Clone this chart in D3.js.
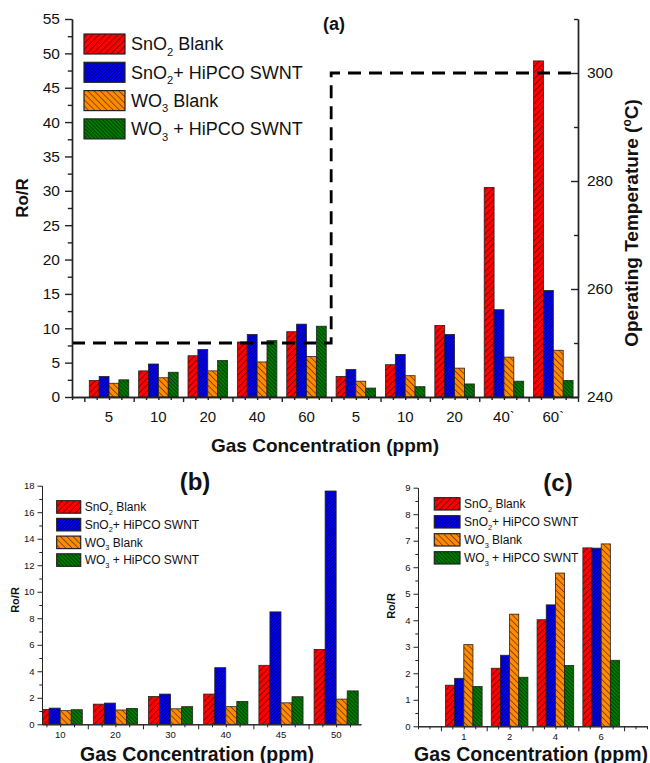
<!DOCTYPE html>
<html>
<head>
<meta charset="UTF-8" />
<title>gas sensor response</title>
<script src="https://d3js.org/d3.v7.min.js"></script>
<style>
	body { margin: 0; background: #fff; }
	text { font-family: "Liberation Sans", Arial, sans-serif; fill: #111; }
</style>
</head>
<body>
<svg id="chart" width="650" height="763"></svg>

<script type="text/javascript">

// ---------------- data ----------------
var catsA = ["5", "10", "20", "40", "60", "5", "10", "20", "40`", "60`"]
var snoBlankA = [2.4, 3.8, 6.0, 8.0, 9.5, 3.0, 4.7, 10.4, 30.5, 48.9]
var snoSwntA  = [3.0, 4.8, 6.9, 9.1, 10.6, 4.0, 6.2, 9.1, 12.7, 15.5]
var woBlankA  = [2.0, 2.8, 3.8, 5.1, 5.9, 2.3, 3.1, 4.2, 5.8, 6.8]
var woSwntA   = [2.5, 3.6, 5.3, 8.2, 10.3, 1.3, 1.5, 1.9, 2.3, 2.4]
var tempA     = [250, 250, 250, 250, 250, 300, 300, 300, 300, 300]

var catsB = ["10", "20", "30", "40", "45", "50"]
var snoBlankB = [1.12, 1.52, 2.1, 2.28, 4.45, 5.65]
var snoSwntB  = [1.22, 1.6, 2.28, 4.27, 8.48, 17.6]
var woBlankB  = [1.03, 1.08, 1.17, 1.33, 1.62, 1.9]
var woSwntB   = [1.1, 1.2, 1.33, 1.73, 2.08, 2.52]

var catsC = ["1", "2", "4", "6"]
var snoBlankC = [1.55, 2.19, 4.02, 6.73]
var snoSwntC  = [1.81, 2.68, 4.58, 6.72]
var woBlankC  = [3.08, 4.23, 5.78, 6.88]
var woSwntC   = [1.5, 1.85, 2.29, 2.49]

// legend names: [main, subscript, rest]
var seriesNames = [["SnO", "2", " Blank"], ["SnO", "2", "+ HiPCO SWNT"], ["WO", "3", " Blank"], ["WO", "3", " + HiPCO SWNT"]]
var seriesColors = ["#ff0000", "#0000ff", "#ff8a00", "#007a00"]

// ---------------- setup ----------------
var svg = d3.select("#chart")
var defs = svg.append("defs")

// hatch fills: "/" for SnO2, "\" for WO3
var hatch = [{gap: 4.4, angle: 45}, {gap: 2.3, angle: 45}, {gap: 4.4, angle: -45}, {gap: 2.7, angle: -45}]
hatch.forEach((h, i) => {
	var p = defs.append("pattern")
		.attr("id", "hatch" + i)
		.attr("patternUnits", "userSpaceOnUse")
		.attr("width", h.gap).attr("height", h.gap)
		.attr("patternTransform", "rotate(" + h.angle + ")")
	p.append("rect").attr("width", h.gap).attr("height", h.gap).attr("fill", seriesColors[i])
	p.append("line")
		.attr("x1", h.gap / 2).attr("x2", h.gap / 2)
		.attr("y1", 0).attr("y2", h.gap)
		.attr("stroke", "#000").attr("stroke-width", 0.6).attr("stroke-opacity", 0.75)
})

function styleAxis(g, fontSize, width) {
	g.selectAll("path").attr("stroke", "#222").attr("stroke-width", width)
	g.selectAll("line").attr("stroke", "#222").attr("stroke-width", width)
	g.selectAll("text").style("font-size", fontSize + "px").attr("fill", "#111")
		.style("font-family", "'Liberation Sans', Arial, sans-serif")
}

function drawBars(g, x, y, series, id) {
	// clip so bars are cut off at the axis like the original
	var xr = x.range(), yr = y.range()
	defs.append("clipPath").attr("id", "clip" + id)
		.append("rect").attr("x", xr[0]).attr("y", yr[1] - 5)
		.attr("width", xr[1] - xr[0]).attr("height", yr[0] - yr[1] + 5)
	var gb = g.append("g").attr("clip-path", "url(#clip" + id + ")")
	series.forEach((vals, j) => {
		gb.selectAll(".bar" + j)
			.data(vals)
			.enter()
			.append("rect")
			.attr("x", (d, i) => x(i + 1 - 0.4 + j * 0.2))
			.attr("width", (d, i) => x(i + 1.2) - x(i + 1))
			.attr("y", d => y(d))
			.attr("height", d => y(0) - y(d))
			.attr("fill", "url(#hatch" + j + ")")
			.attr("stroke", "#222")
			.attr("stroke-width", 0.8)
	})
}

function drawXAxis(g, x, y0, cats, fontSize, width, labelDy) {
	var d = x.domain()
	var quarter = d3.range(Math.ceil(d[0] * 4) / 4, d[1] + 0.001, 0.25)
	var half = quarter.filter(v => Math.abs(v * 2 - Math.round(v * 2)) < 0.01 && Math.abs(v - Math.round(v)) > 0.01)
	var minor = quarter.filter(v => half.indexOf(v) < 0)
	var a1 = g.append("g").attr("transform", "translate(0," + y0 + ")")
		.call(d3.axisBottom(x).tickValues(minor).tickSize(3).tickSizeOuter(0).tickFormat(""))
	var a2 = g.append("g").attr("transform", "translate(0," + y0 + ")")
		.call(d3.axisBottom(x).tickValues(half).tickSize(5).tickSizeOuter(0).tickFormat(""))
	styleAxis(a1, fontSize, width)
	styleAxis(a2, fontSize, width)
	g.selectAll(null).data(cats).enter().append("text")
		.attr("x", (c, i) => x(i + 1))
		.attr("y", y0 + labelDy)
		.attr("text-anchor", "middle")
		.style("font-size", fontSize + "px")
		.text(c => c)
}

function drawYAxis(g, y, x0, major, minor, fontSize, width, size, pad) {
	var a1 = g.append("g").attr("transform", "translate(" + x0 + ",0)")
		.call(d3.axisLeft(y).tickValues(minor).tickSize(size * 0.6).tickSizeOuter(0).tickFormat(""))
	var a2 = g.append("g").attr("transform", "translate(" + x0 + ",0)")
		.call(d3.axisLeft(y).tickValues(major).tickSize(size).tickPadding(pad).tickSizeOuter(0))
	styleAxis(a1, fontSize, width)
	styleAxis(a2, fontSize, width)
}

function drawLegend(g, x0, y0, boxW, boxH, step, fontSize) {
	seriesNames.forEach((n, j) => {
		var yy = y0 + j * step
		g.append("rect").attr("x", x0).attr("y", yy).attr("width", boxW).attr("height", boxH)
			.attr("fill", "url(#hatch" + j + ")").attr("stroke", "#222").attr("stroke-width", 1.2)
		var t = g.append("text").attr("x", x0 + boxW + fontSize * 0.33).attr("y", yy + boxH / 2 + fontSize * 0.35)
			.style("font-size", fontSize + "px")
		t.append("tspan").text(n[0])
		t.append("tspan").attr("dy", fontSize * 0.3).style("font-size", (fontSize * 0.62) + "px").text(n[1])
		t.append("tspan").attr("dy", -fontSize * 0.3).text(n[2])
	})
}

function rotLabel(g, x, y, size, txt) {
	g.append("text").attr("transform", "translate(" + x + "," + y + ") rotate(-90)")
		.attr("text-anchor", "middle").style("font-size", size + "px").style("font-weight", "bold").text(txt)
}

function title(g, x, y, size, txt) {
	g.append("text").attr("x", x).attr("y", y).attr("text-anchor", "middle")
		.style("font-size", size + "px").style("font-weight", "bold").text(txt)
}

//========================================================================
// (a)
//========================================================================
var gA = svg.append("g")
var xA = d3.scaleLinear().domain([0.25, 10.5]).range([72, 578])
var yA = d3.scaleLinear().domain([0, 55]).range([397, 19])
var tA = d3.scaleLinear().domain([240, 310]).range([397, 19])

drawBars(gA, xA, yA, [snoBlankA, snoSwntA, woBlankA, woSwntA], "A")

var tempPts = [[0.25, tempA[0]]].concat(tempA.map((t, i) => [i + 1, t])).concat([[10.5, tempA[tempA.length - 1]]])
gA.append("path")
	.datum(tempPts)
	.attr("d", d3.line().x(d => xA(d[0])).y(d => tA(d[1])).curve(d3.curveStep))
	.attr("fill", "none")
	.attr("stroke", "#000")
	.attr("stroke-width", 2.8)
	.attr("stroke-dasharray", "13,8")

drawXAxis(gA, xA, 397, catsA, 15, 1.4, 25)
drawYAxis(gA, yA, 72, d3.range(0, 56, 5), d3.range(2.5, 55, 5), 15.5, 1.4, 7, 5)

var rA1 = gA.append("g").attr("transform", "translate(578,0)")
	.call(d3.axisRight(tA).tickValues([250, 270, 290, 310]).tickSize(-4).tickSizeOuter(0).tickFormat(""))
var rA2 = gA.append("g").attr("transform", "translate(578,0)")
	.call(d3.axisRight(tA).tickValues([240, 260, 280, 300]).tickSize(-7).tickPadding(9).tickSizeOuter(0))
styleAxis(rA1, 15.5, 1.4)
styleAxis(rA2, 15.5, 1.4)

drawLegend(gA, 84, 34, 41, 20, 28.3, 18)
title(gA, 334, 30, 18, "(a)")
rotLabel(gA, 28, 198, 17, "Ro/R")
var tt = gA.append("text").attr("transform", "translate(638,223) rotate(-90)")
	.attr("text-anchor", "middle").style("font-size", "19px").style("font-weight", "bold")
tt.append("tspan").text("Operating Temperature (")
tt.append("tspan").attr("dy", -7).style("font-size", "12px").text("o")
tt.append("tspan").attr("dy", 7).text("C)")
title(gA, 325, 452, 19, "Gas Concentration (ppm)")

//========================================================================
// (b)
//========================================================================
var gB = svg.append("g")
var xB = d3.scaleLinear().domain([0.67, 6.45]).range([42, 361])
var yB = d3.scaleLinear().domain([0, 18]).range([724.3, 485.7])

drawBars(gB, xB, yB, [snoBlankB, snoSwntB, woBlankB, woSwntB], "B")
drawXAxis(gB, xB, 724.3, catsB, 9.5, 1, 14)
drawYAxis(gB, yB, 42, d3.range(0, 19, 2), d3.range(1, 18, 2), 9.5, 1, 4.5, 3)
drawLegend(gB, 56.7, 500.7, 24, 12.5, 17.7, 12)
title(gB, 195, 490, 24, "(b)")
rotLabel(gB, 19, 600, 11, "Ro/R")
title(gB, 197, 760.5, 19.5, "Gas Concentration (ppm)")

//========================================================================
// (c)
//========================================================================
var gC = svg.append("g")
var xC = d3.scaleLinear().domain([0, 5]).range([418, 647])
var yC = d3.scaleLinear().domain([0, 9]).range([726.3, 487.7])

drawBars(gC, xC, yC, [snoBlankC, snoSwntC, woBlankC, woSwntC], "C")
drawXAxis(gC, xC, 726.3, catsC, 9.5, 1, 13.5)
drawYAxis(gC, yC, 418, d3.range(0, 10, 1), d3.range(0.5, 9, 1), 9.5, 1, 4.5, 3)
drawLegend(gC, 434.3, 497.7, 25.7, 12.3, 18, 12)
title(gC, 558, 491, 24, "(c)")
rotLabel(gC, 395, 606, 11, "Ro/R")
title(gC, 531, 760.5, 19.5, "Gas Concentration (ppm)")

</script>
</body>
</html>
